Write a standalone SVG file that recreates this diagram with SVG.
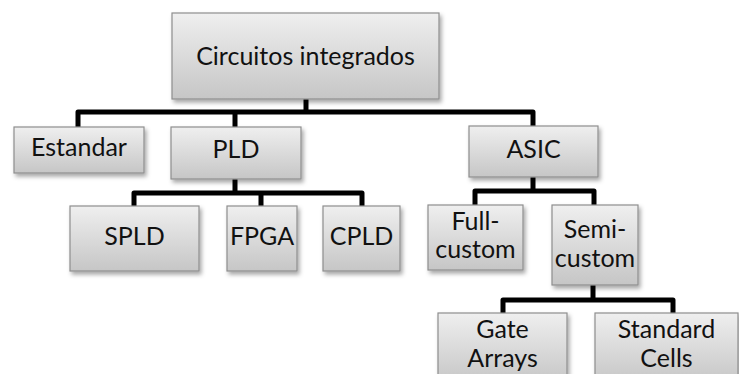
<svg xmlns="http://www.w3.org/2000/svg" width="739" height="374" viewBox="0 0 739 374">
  <defs>
    <linearGradient id="boxFill" x1="0" y1="0" x2="0" y2="1">
      <stop offset="0" stop-color="#efefef"/>
      <stop offset="1" stop-color="#c6c6c6"/>
    </linearGradient>
    <filter id="shadow" x="-10%" y="-10%" width="130%" height="140%">
      <feDropShadow dx="2" dy="3" stdDeviation="2" flood-color="#000" flood-opacity="0.35"/>
    </filter>
  </defs>
  <style>
    .box { fill: url(#boxFill); stroke: #8e8e8e; stroke-width: 1.2; filter: url(#shadow); }
    .lbl { font-family: Lato, "Liberation Sans", sans-serif; font-size: 25px; fill: #111; text-anchor: middle; }
    .wire { fill: none; stroke: #000; stroke-width: 5; stroke-linejoin: round; stroke-linecap: butt; }
  </style>
  <rect width="739" height="374" fill="#fff"/>

  <!-- tree connectors -->
  <g id="connectors">
    <path class="wire" d="M306 99 V112 M78 127 V112 H533 V126 M235 112 V127"/>
    <path class="wire" d="M235 179 V193 M134 206 V193 H362 V206 M261 193 V206"/>
    <path class="wire" d="M533 177 V191 M475 205 V191 H594 V205"/>
    <path class="wire" d="M593 285 V300 M503 313 V300 H673 V313"/>
  </g>

  <g id="circuitos-integrados">
    <rect class="box" x="172" y="13" width="267" height="86"/>
    <text class="lbl" x="305.5" y="65">Circuitos integrados</text>
  </g>
  <g id="estandar">
    <rect class="box" x="14" y="127" width="130" height="46"/>
    <text class="lbl" x="79" y="156">Estandar</text>
  </g>
  <g id="pld">
    <rect class="box" x="171" y="127" width="130" height="52"/>
    <text class="lbl" x="236" y="158">PLD</text>
  </g>
  <g id="asic">
    <rect class="box" x="469" y="126" width="129" height="51"/>
    <text class="lbl" x="533.5" y="158">ASIC</text>
  </g>
  <g id="spld">
    <rect class="box" x="70" y="206" width="129" height="65"/>
    <text class="lbl" x="134.5" y="245">SPLD</text>
  </g>
  <g id="fpga">
    <rect class="box" x="227" y="206" width="70" height="65"/>
    <text class="lbl" x="262" y="245">FPGA</text>
  </g>
  <g id="cpld">
    <rect class="box" x="323" y="206" width="77" height="65"/>
    <text class="lbl" x="361.5" y="245">CPLD</text>
  </g>
  <g id="full-custom">
    <rect class="box" x="428" y="205" width="95" height="65"/>
    <text class="lbl" x="475.5" y="230">Full-</text>
    <text class="lbl" x="475.5" y="258">custom</text>
  </g>
  <g id="semi-custom">
    <rect class="box" x="552" y="205" width="86" height="80"/>
    <text class="lbl" x="595" y="238">Semi-</text>
    <text class="lbl" x="595" y="267">custom</text>
  </g>
  <g id="gate-arrays">
    <rect class="box" x="438" y="313" width="129" height="70"/>
    <text class="lbl" x="502.5" y="338">Gate</text>
    <text class="lbl" x="502.5" y="367">Arrays</text>
  </g>
  <g id="standard-cells">
    <rect class="box" x="595" y="313" width="143" height="70"/>
    <text class="lbl" x="666.5" y="338">Standard</text>
    <text class="lbl" x="666.5" y="367">Cells</text>
  </g>
</svg>
